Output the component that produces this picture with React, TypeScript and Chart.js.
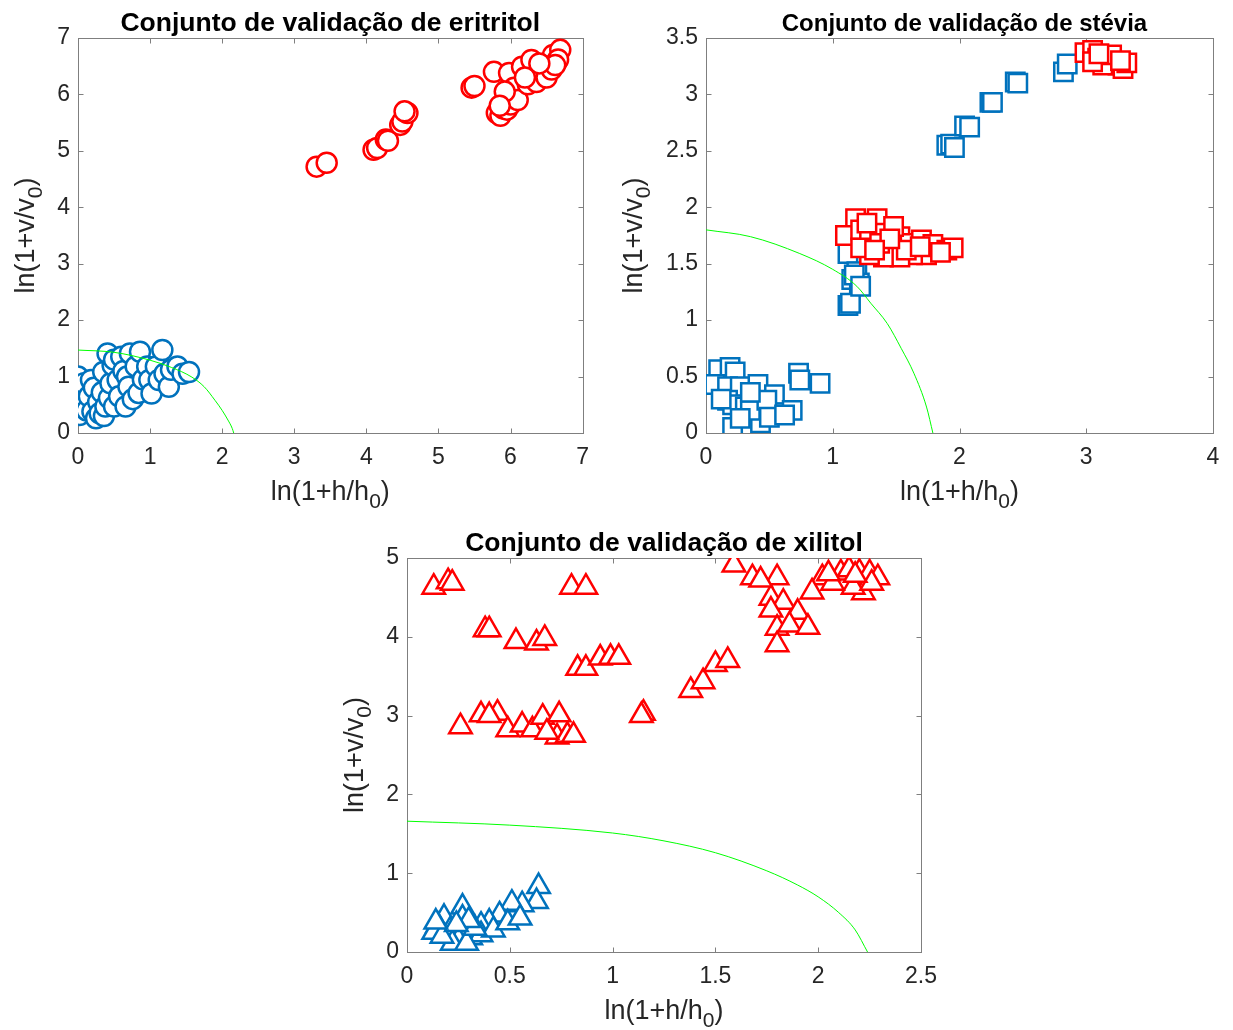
import React, { useEffect, useRef } from "react";
import { Chart, registerables } from "chart.js";

Chart.register(...registerables);

const FONT = "'Liberation Sans', Arial, Helvetica, sans-serif";
const BLUE = "#0072BD";
const RED = "#FF0000";
const GREEN = "#00FF00";
const AXIS_COLOR = "#7f7f7f";
const TICK_COLOR = "#262626";

// ---------- Panel 1: eritritol ----------
const ERI_TITLE = "Conjunto de validação de eritritol";
const ERI_X_TICKS = [0, 1, 2, 3, 4, 5, 6, 7];
const ERI_Y_TICKS = [0, 1, 2, 3, 4, 5, 6, 7];
const ERI_BLUE_X = [0.00, 0.00, 0.00, 0.02, 0.05, 0.08, 0.10, 0.12, 0.15, 0.18, 0.20, 0.22, 0.25, 0.28, 0.30, 0.33, 0.35, 0.36, 0.38, 0.41, 0.43, 0.45, 0.48, 0.50, 0.50, 0.55, 0.57, 0.60, 0.63, 0.66, 0.68, 0.70, 0.72, 0.76, 0.80, 0.84, 0.86, 0.90, 0.96, 0.99, 1.02, 1.08, 1.12, 1.17, 1.20, 1.26, 1.29, 1.38, 1.45, 1.54];
const ERI_BLUE_Y = [1.00, 0.76, 0.47, 0.32, 0.62, 0.88, 0.53, 0.40, 0.65, 0.94, 0.38, 0.80, 0.26, 0.55, 0.35, 0.72, 1.08, 0.30, 0.47, 1.41, 0.62, 0.88, 1.20, 0.47, 1.30, 0.94, 0.65, 1.35, 1.10, 0.47, 1.00, 0.82, 1.41, 0.60, 1.18, 0.71, 1.44, 0.95, 1.18, 0.94, 0.70, 1.18, 0.94, 1.47, 1.05, 0.82, 1.12, 1.18, 1.05, 1.08];
const ERI_RED_X = [3.31, 3.45, 4.10, 4.15, 4.27, 4.30, 4.47, 4.50, 4.57, 4.53, 5.46, 5.50, 5.77, 5.81, 5.86, 5.90, 5.95, 6.00, 5.98, 6.05, 6.10, 6.16, 6.24, 6.29, 6.36, 6.45, 6.50, 6.57, 6.59, 6.64, 6.69, 6.66, 6.62, 5.92, 6.20, 6.40, 5.85];
const ERI_RED_Y = [4.72, 4.79, 5.02, 5.05, 5.20, 5.18, 5.46, 5.52, 5.67, 5.70, 6.12, 6.15, 6.40, 5.67, 5.62, 5.75, 5.73, 5.82, 6.38, 6.12, 5.90, 6.49, 6.18, 6.61, 6.22, 6.40, 6.30, 6.44, 6.70, 6.58, 6.79, 6.62, 6.52, 6.05, 6.30, 6.55, 5.80];
const ERI_CURVE_X = [0, 0.5, 1.0, 1.3, 1.58, 1.75, 1.9, 2.0, 2.08, 2.14, 2.16];
const ERI_CURVE_Y = [1.47, 1.43, 1.29, 1.16, 0.99, 0.82, 0.58, 0.40, 0.23, 0.08, 0];

// ---------- Panel 2: stévia ----------
const STE_TITLE = "Conjunto de validação de stévia";
const STE_X_TICKS = [0, 1, 2, 3, 4];
const STE_Y_TICKS = [0, 0.5, 1, 1.5, 2, 2.5, 3, 3.5];
const STE_BLUE_X = [0.10, 0.19, 0.23, 0.07, 0.17, 0.27, 0.41, 0.54, 0.17, 0.21, 0.31, 0.40, 0.44, 0.57, 0.68, 0.21, 0.43, 0.35, 0.73, 0.74, 0.90, 0.48, 0.35, 0.12, 0.27, 0.50, 0.62, 1.12, 1.19, 1.15, 1.21, 1.12, 1.14, 1.17, 1.22, 1.90, 1.93, 1.96, 2.04, 2.08, 2.24, 2.26, 2.44, 2.46, 2.82, 2.85];
const STE_BLUE_Y = [0.56, 0.58, 0.54, 0.43, 0.41, 0.41, 0.43, 0.34, 0.29, 0.25, 0.23, 0.27, 0.18, 0.18, 0.20, 0.05, 0.09, 0.20, 0.53, 0.47, 0.44, 0.29, 0.36, 0.30, 0.13, 0.14, 0.16, 1.59, 1.43, 1.36, 1.33, 1.13, 1.15, 1.40, 1.30, 2.55, 2.56, 2.53, 2.72, 2.71, 2.93, 2.93, 3.11, 3.10, 3.20, 3.27];
const STE_RED_X = [1.18, 1.35, 1.10, 1.22, 1.29, 1.40, 1.47, 1.53, 1.61, 1.70, 1.79, 1.90, 1.95, 1.74, 1.63, 1.53, 1.40, 1.29, 1.22, 1.37, 1.48, 1.27, 1.58, 1.69, 1.45, 1.33, 1.85, 2.99, 3.05, 3.09, 3.16, 3.20, 3.25, 3.29, 3.32, 3.13, 3.05, 3.20, 3.27, 3.10];
const STE_RED_Y = [1.90, 1.90, 1.75, 1.80, 1.74, 1.77, 1.67, 1.74, 1.68, 1.71, 1.67, 1.62, 1.64, 1.58, 1.58, 1.56, 1.56, 1.58, 1.64, 1.68, 1.83, 1.86, 1.62, 1.65, 1.72, 1.62, 1.60, 3.37, 3.39, 3.32, 3.33, 3.28, 3.26, 3.23, 3.28, 3.26, 3.29, 3.35, 3.30, 3.36];
const STE_CURVE_X = [0, 0.35, 0.74, 1.0, 1.19, 1.3, 1.43, 1.54, 1.64, 1.74, 1.79];
const STE_CURVE_Y = [1.80, 1.74, 1.59, 1.45, 1.30, 1.15, 0.97, 0.75, 0.53, 0.23, 0];

// ---------- Panel 3: xilitol ----------
const XIL_TITLE = "Conjunto de validação de xilitol";
const XIL_X_TICKS = [0, 0.5, 1, 1.5, 2, 2.5];
const XIL_Y_TICKS = [0, 1, 2, 3, 4, 5];
const XIL_BLUE_X = [0.64, 0.63, 0.56, 0.51, 0.45, 0.40, 0.36, 0.27, 0.27, 0.18, 0.15, 0.13, 0.21, 0.31, 0.25, 0.36, 0.42, 0.49, 0.55, 0.22, 0.29, 0.17, 0.33, 0.30, 0.24, 0.14];
const XIL_BLUE_Y = [0.83, 0.64, 0.60, 0.62, 0.47, 0.38, 0.34, 0.57, 0.43, 0.44, 0.34, 0.25, 0.28, 0.18, 0.15, 0.22, 0.28, 0.37, 0.43, 0.11, 0.11, 0.20, 0.30, 0.40, 0.35, 0.38];
const XIL_RED_X = [0.13, 0.20, 0.22, 0.38, 0.40, 0.53, 0.63, 0.67, 0.80, 0.87, 0.83, 0.87, 0.94, 0.99, 1.03, 1.15, 1.14, 1.38, 1.44, 1.50, 1.56, 0.26, 0.36, 0.44, 0.49, 0.56, 0.61, 0.66, 0.74, 0.73, 0.78, 0.81, 0.68, 0.40, 1.59, 1.68, 1.80, 1.77, 1.83, 1.90, 1.77, 1.80, 1.86, 1.95, 1.80, 2.02, 1.97, 2.11, 2.15, 2.20, 2.25, 2.29, 2.22, 2.17, 2.07, 2.26, 1.72, 2.05, 2.18];
const XIL_RED_Y = [4.63, 4.70, 4.68, 4.09, 4.09, 3.94, 3.92, 3.98, 4.63, 4.63, 3.60, 3.60, 3.73, 3.74, 3.74, 3.03, 3.00, 3.32, 3.43, 3.65, 3.70, 2.86, 3.01, 3.03, 2.82, 2.88, 2.82, 2.98, 3.01, 2.73, 2.75, 2.75, 2.79, 3.00, 4.91, 4.75, 4.75, 4.49, 4.44, 4.31, 4.34, 4.11, 4.15, 4.12, 3.90, 4.75, 4.57, 4.81, 4.85, 4.82, 4.81, 4.75, 4.56, 4.63, 4.68, 4.68, 4.72, 4.80, 4.78];
const XIL_CURVE_X = [0, 0.5, 1.0, 1.25, 1.5, 1.75, 1.9, 2.0, 2.1, 2.18, 2.24];
const XIL_CURVE_Y = [1.66, 1.61, 1.51, 1.41, 1.26, 1.03, 0.85, 0.70, 0.50, 0.28, 0];

const X_LABEL = { main: "ln(1+h/h", sub: "0", tail: ")" };
const Y_LABEL = { main: "ln(1+v/v", sub: "0", tail: ")" };

type Panel = {
  key: string;
  title: string;
  titleSize: number;
  titleDx: number;
  xTicks: number[];
  yTicks: number[];
  blue: { x: number[]; y: number[] };
  red: { x: number[]; y: number[] };
  curve: { x: number[]; y: number[] };
  style: string;
  radius: number;
  box: { left: number; top: number; width: number; height: number };
  yAxisWidth: number;
  xAxisHeight: number;
  padTop: number;
  padRight: number;
  yLabelDx: number;
};

const PANELS: Panel[] = [
  {
    key: "eri", title: ERI_TITLE, titleSize: 26.5, titleDx: 0,
    xTicks: ERI_X_TICKS, yTicks: ERI_Y_TICKS,
    blue: { x: ERI_BLUE_X, y: ERI_BLUE_Y }, red: { x: ERI_RED_X, y: ERI_RED_Y },
    curve: { x: ERI_CURVE_X, y: ERI_CURVE_Y },
    style: "circle", radius: 10,
    box: { left: 0, top: 0, width: 600, height: 520 },
    yAxisWidth: 78, xAxisHeight: 87, padTop: 38, padRight: 10, yLabelDx: -44,
  },
  {
    key: "ste", title: STE_TITLE, titleSize: 24, titleDx: 5,
    xTicks: STE_X_TICKS, yTicks: STE_Y_TICKS,
    blue: { x: STE_BLUE_X, y: STE_BLUE_Y }, red: { x: STE_RED_X, y: STE_RED_Y },
    curve: { x: STE_CURVE_X, y: STE_CURVE_Y },
    style: "rect", radius: 13,
    box: { left: 600, top: 0, width: 633, height: 520 },
    yAxisWidth: 106, xAxisHeight: 87, padTop: 38, padRight: 20, yLabelDx: -64,
  },
  {
    key: "xil", title: XIL_TITLE, titleSize: 26.5, titleDx: 0,
    xTicks: XIL_X_TICKS, yTicks: XIL_Y_TICKS,
    blue: { x: XIL_BLUE_X, y: XIL_BLUE_Y }, red: { x: XIL_RED_X, y: XIL_RED_Y },
    curve: { x: XIL_CURVE_X, y: XIL_CURVE_Y },
    style: "triangle", radius: 13,
    box: { left: 300, top: 520, width: 650, height: 510 },
    yAxisWidth: 107, xAxisHeight: 78, padTop: 38, padRight: 29, yLabelDx: -44,
  },
];

const LABEL_SIZE = 27;
const SUB_SIZE = 21;
const SUB_DROP = 8;

function drawSubText(ctx: CanvasRenderingContext2D, lbl: { main: string; sub: string; tail: string }, cx: number, baseY: number) {
  ctx.font = `${LABEL_SIZE}px ${FONT}`;
  const w1 = ctx.measureText(lbl.main).width;
  const w3 = ctx.measureText(lbl.tail).width;
  ctx.font = `${SUB_SIZE}px ${FONT}`;
  const w2 = ctx.measureText(lbl.sub).width;
  const total = w1 + w2 + w3;
  let x = cx - total / 2;
  ctx.textAlign = "left";
  ctx.textBaseline = "alphabetic";
  ctx.fillStyle = TICK_COLOR;
  ctx.font = `${LABEL_SIZE}px ${FONT}`;
  ctx.fillText(lbl.main, x, baseY);
  x += w1;
  ctx.font = `${SUB_SIZE}px ${FONT}`;
  ctx.fillText(lbl.sub, x, baseY + SUB_DROP);
  x += w2;
  ctx.font = `${LABEL_SIZE}px ${FONT}`;
  ctx.fillText(lbl.tail, x, baseY);
}

function makeFramePlugin(p: Panel) {
  return {
    id: "frame_" + p.key,
    beforeDatasetsDraw(chart: any) {
      const { ctx, chartArea: a, scales } = chart;
      ctx.save();
      ctx.strokeStyle = AXIS_COLOR;
      ctx.lineWidth = 1;
      const L = Math.round(a.left) + 0.5, R = Math.round(a.right) + 0.5;
      const T = Math.round(a.top) + 0.5, B = Math.round(a.bottom) + 0.5;
      ctx.strokeRect(L, T, R - L, B - T);
      ctx.beginPath();
      p.xTicks.forEach((v) => {
        const px = Math.round(scales.x.getPixelForValue(v)) + 0.5;
        ctx.moveTo(px, B); ctx.lineTo(px, B - 5);
        ctx.moveTo(px, T); ctx.lineTo(px, T + 5);
      });
      p.yTicks.forEach((v) => {
        const py = Math.round(scales.y.getPixelForValue(v)) + 0.5;
        ctx.moveTo(L, py); ctx.lineTo(L + 5, py);
        ctx.moveTo(R, py); ctx.lineTo(R - 5, py);
      });
      ctx.stroke();
      ctx.restore();
    },
    afterDraw(chart: any) {
      const { ctx, chartArea: a } = chart;
      ctx.save();
      ctx.font = `bold ${p.titleSize}px ${FONT}`;
      ctx.fillStyle = "#000000";
      ctx.textAlign = "center";
      ctx.textBaseline = "alphabetic";
      ctx.fillText(p.title, (a.left + a.right) / 2 + p.titleDx, a.top - 7);
      drawSubText(ctx, X_LABEL, (a.left + a.right) / 2, a.bottom + 67);
      ctx.translate(a.left + p.yLabelDx, (a.top + a.bottom) / 2);
      ctx.rotate(-Math.PI / 2);
      drawSubText(ctx, Y_LABEL, 0, 0);
      ctx.restore();
    },
  };
}

function toPoints(s: { x: number[]; y: number[] }) {
  return s.x.map((x, i) => ({ x, y: s.y[i] }));
}

function makeConfig(p: Panel): any {
  const tickFont = { family: FONT, size: 23 };
  return {
    type: "scatter",
    data: {
      datasets: [
        {
          data: toPoints(p.curve), showLine: true, borderColor: GREEN, borderWidth: 1,
          pointRadius: 0, fill: false, tension: 0.4, cubicInterpolationMode: "monotone", order: 0,
        },
        {
          data: toPoints(p.red), pointStyle: p.style, pointRadius: p.radius, borderColor: RED,
          backgroundColor: "#ffffff", pointBorderWidth: 2.5, borderWidth: 2.5, showLine: false, order: 1,
        },
        {
          data: toPoints(p.blue), pointStyle: p.style, pointRadius: p.radius, borderColor: BLUE,
          backgroundColor: "#ffffff", pointBorderWidth: 2.5, borderWidth: 2.5, showLine: false, order: 2,
        },
      ],
    },
    options: {
      responsive: false,
      maintainAspectRatio: false,
      animation: false,
      events: [],
      layout: { padding: { left: 0, top: p.padTop, right: p.padRight, bottom: 0 } },
      plugins: { legend: { display: false }, tooltip: { enabled: false }, title: { display: false } },
      scales: {
        x: {
          type: "linear", position: "bottom",
          min: p.xTicks[0], max: p.xTicks[p.xTicks.length - 1],
          grid: { display: false, drawTicks: false, tickLength: 0 }, border: { display: false },
          ticks: { font: tickFont, color: TICK_COLOR, padding: 11, maxRotation: 0, autoSkip: false, callback: (v: number) => String(v) },
          afterBuildTicks: (s: any) => { s.ticks = p.xTicks.map((v) => ({ value: v })); },
          afterFit: (s: any) => { s.height = p.xAxisHeight; },
        },
        y: {
          type: "linear", position: "left",
          min: p.yTicks[0], max: p.yTicks[p.yTicks.length - 1],
          grid: { display: false, drawTicks: false, tickLength: 0 }, border: { display: false },
          ticks: { font: tickFont, color: TICK_COLOR, padding: 8, autoSkip: false, callback: (v: number) => String(v) },
          afterBuildTicks: (s: any) => { s.ticks = p.yTicks.map((v) => ({ value: v })); },
          afterFit: (s: any) => { s.width = p.yAxisWidth; },
        },
      },
    },
    plugins: [makeFramePlugin(p)],
  };
}

function ChartPanel({ panel }: { panel: Panel }) {
  const ref = useRef<HTMLCanvasElement | null>(null);
  useEffect(() => {
    if (!ref.current) return;
    const chart = new Chart(ref.current, makeConfig(panel));
    return () => chart.destroy();
  }, [panel]);
  const b = panel.box;
  return (
    <div style={{ position: "absolute", left: b.left, top: b.top, width: b.width, height: b.height }}>
      <canvas ref={ref} width={b.width} height={b.height} style={{ display: "block", width: b.width, height: b.height }} />
    </div>
  );
}

export default function App() {
  return (
    <div style={{ position: "absolute", left: 0, top: 0, width: 1233, height: 1030, background: "#ffffff", overflow: "hidden" }}>
      {PANELS.map((p) => (
        <ChartPanel key={p.key} panel={p} />
      ))}
    </div>
  );
}
